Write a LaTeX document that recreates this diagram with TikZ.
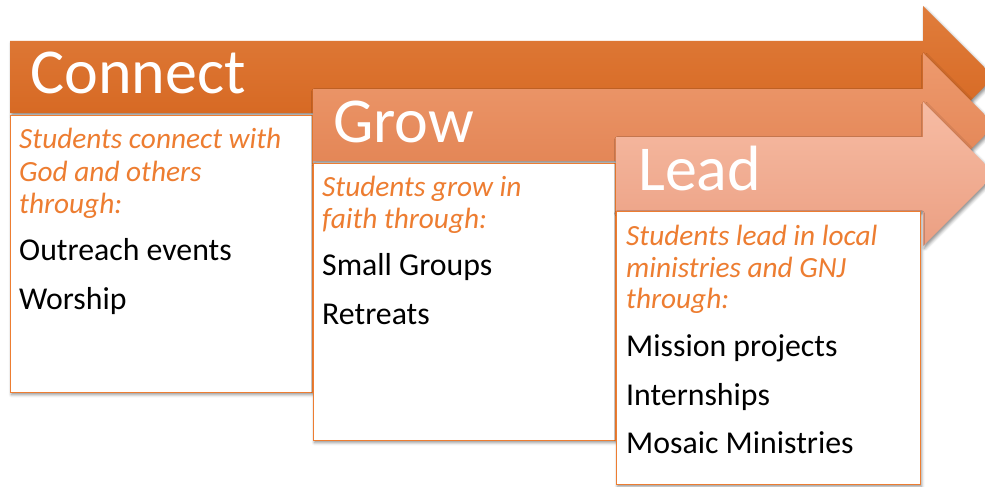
\documentclass[tikz,border=0pt]{standalone}
\usepackage{fontspec}
\setmainfont{Carlito}
\usetikzlibrary{shadows.blur}
\definecolor{aOneTop}{HTML}{E07D3C}
\definecolor{aOneBot}{HTML}{D4631C}
\definecolor{aTwoTop}{HTML}{EE9A6E}
\definecolor{aTwoBot}{HTML}{E0804F}
\definecolor{aThreeTop}{HTML}{F7BCA4}
\definecolor{aThreeBot}{HTML}{EB9F82}
\definecolor{accent}{HTML}{ED7D31}
\tikzset{
  arrowshape/.style={blur shadow={shadow xshift=1.5pt,shadow yshift=-2.5pt,shadow blur radius=3pt,shadow opacity=45}},
  textbox/.style={draw=accent,line width=1pt,fill=white,blur shadow={shadow xshift=1.5pt,shadow yshift=-2.5pt,shadow blur radius=3pt,shadow opacity=45}},
  title/.style={anchor=base west,inner sep=0pt,text=white,font=\fontsize{64}{64}\selectfont},
  lead/.style={anchor=base west,inner sep=0pt,text=accent,font=\fontsize{29.3}{29.3}\selectfont\itshape},
  item/.style={anchor=base west,inner sep=0pt,text=black,font=\fontsize{31.8}{31.8}\selectfont},
}
\begin{document}
\begin{tikzpicture}[x=1pt,y=-1pt]
\useasboundingbox (0,0) rectangle (985,487);
% Connect
\path[arrowshape,top color=aOneTop,bottom color=aOneBot] (10,41) -- (923,41) -- (923,6) -- (994,77) -- (923,148) -- (923,113) -- (10,113) -- cycle;
\path[textbox] (10,115) rectangle (312,392);
\node[title] (t1) at (30,93) {Connect};
\node[lead] (l1a) at (19,148) {Students connect with};
\node[lead] (l1b) at (19,181) {God and others};
\node[lead] (l1c) at (19,213) {through:};
\node[item] (i1a) at (19,260) {Outreach events};
\node[item] (i1b) at (19,309) {Worship};
% Grow
\path[arrowshape,top color=aTwoTop,bottom color=aTwoBot] (313,89) -- (923,89) -- (923,53) -- (995,125) -- (923,197) -- (923,161) -- (313,161) -- cycle;
\path[textbox] (313,163) rectangle (615,440);
\node[title] (t2) at (333,142) {Grow};
\node[lead] (l2a) at (322,196) {Students grow in};
\node[lead] (l2b) at (322,228) {faith through:};
\node[item] (i2a) at (322,275) {Small Groups};
\node[item] (i2b) at (322,324) {Retreats};
% Lead
\path[arrowshape,top color=aThreeTop,bottom color=aThreeBot] (616,137) -- (923,137) -- (923,102) -- (995,174) -- (923,246) -- (923,211) -- (616,211) -- cycle;
\path[textbox] (616,211) rectangle (920,484);
\node[title] (t3) at (638,190) {Lead};
\node[lead] (l3a) at (626,245) {Students lead in local};
\node[lead] (l3b) at (626,277) {ministries and GNJ};
\node[lead] (l3c) at (626,308) {through:};
\node[item] (i3a) at (626,356) {Mission projects};
\node[item] (i3b) at (626,405) {Internships};
\node[item] (i3c) at (626,453) {Mosaic Ministries};
\end{tikzpicture}
\end{document}
